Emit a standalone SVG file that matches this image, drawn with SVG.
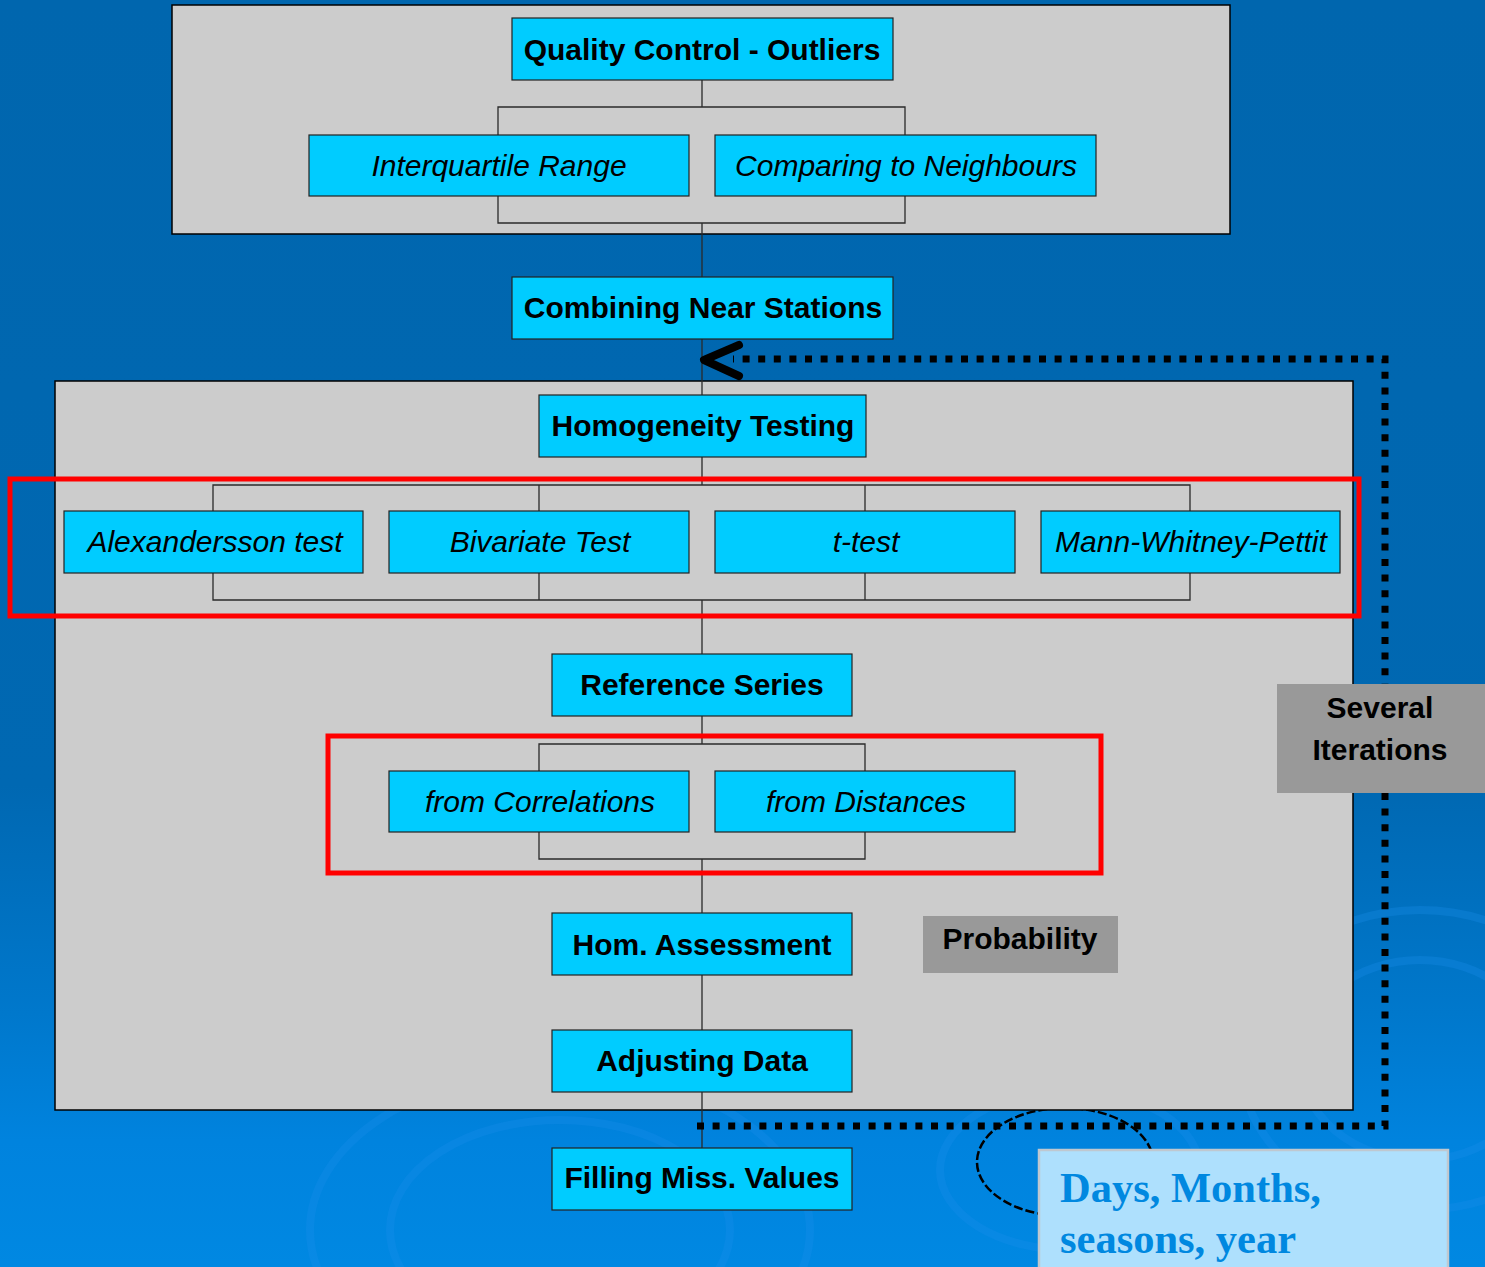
<svg xmlns="http://www.w3.org/2000/svg" width="1485" height="1267" viewBox="0 0 1485 1267">
<defs>
<linearGradient id="bg" x1="0" y1="0" x2="0" y2="1">
<stop offset="0" stop-color="#0066AE"/>
<stop offset="0.62" stop-color="#0068B2"/>
<stop offset="0.8" stop-color="#0078CC"/>
<stop offset="0.9" stop-color="#0083DE"/>
<stop offset="1" stop-color="#0088E2"/>
</linearGradient>
</defs>
<style>
.panel{fill:#CCCCCC;stroke:#000;stroke-width:1.5}
.box{fill:#00CCFF;stroke:#222;stroke-width:1.2}
.grey{fill:#999999}
.b{font-family:"Liberation Sans",Arial,sans-serif;font-weight:bold;font-size:30px;fill:#000;text-anchor:middle}
.i{font-family:"Liberation Sans",Arial,sans-serif;font-style:italic;font-size:30px;fill:#000;text-anchor:middle}
.con{fill:none;stroke:#2A2A2A;stroke-width:1.3}
.red{fill:none;stroke:#FF0000;stroke-width:5}
.dot{fill:none;stroke:#000;stroke-width:7;stroke-dasharray:7 8.6}
.swirl{fill:none;stroke:#1A90EA;stroke-opacity:0.3;stroke-width:8}
.days{font-family:"Liberation Serif","Times New Roman",serif;font-weight:bold;font-size:42.5px;fill:#0088E0}
</style>
<rect x="0" y="0" width="1485" height="1267" fill="url(#bg)"/>
<g id="swirls">
<ellipse class="swirl" cx="560" cy="1230" rx="170" ry="110"/>
<ellipse class="swirl" cx="560" cy="1230" rx="250" ry="160"/>
<ellipse class="swirl" cx="1070" cy="1170" rx="130" ry="80"/>
<ellipse class="swirl" cx="1420" cy="1060" rx="120" ry="100"/>
<ellipse class="swirl" cx="1420" cy="1060" rx="180" ry="150"/>
</g>
<ellipse cx="1065" cy="1162" rx="88" ry="54" fill="none" stroke="#000" stroke-width="2.5" stroke-dasharray="9 3"/>
<g id="panel-qc"><rect class="panel" x="172" y="5" width="1058" height="229"/></g>
<g id="panel-hom"><rect class="panel" x="55" y="381" width="1298" height="729"/></g>
<g id="connectors">
<path class="con" d="M702 80V107M498 135V107H905V135M498 196V223H905V196M702 223V277"/>
<path class="con" d="M702 339V395"/>
<path class="con" d="M702 457V485M213 511V485H1190V511M539 485V511M865 485V511"/>
<path class="con" d="M213 573V600H1190V573M539 573V600M865 573V600M702 600V654"/>
<path class="con" d="M702 716V744M539 771V744H865V771M539 832V859H865V832M702 859V913"/>
<path class="con" d="M702 975V1030M702 1092V1148"/>
<path class="dot" d="M697 1126H1385V359H733"/>
<path d="M739 345L704 360L739 376" fill="none" stroke="#000" stroke-width="8" stroke-linecap="round" stroke-linejoin="round"/>
</g>
<g id="n-qc"><rect class="box" x="512" y="18" width="381" height="62"/><text class="b" x="702" y="60">Quality Control - Outliers</text></g>
<g id="n-iqr"><rect class="box" x="309" y="135" width="380" height="61"/><text class="i" x="499" y="176">Interquartile Range</text></g>
<g id="n-neigh"><rect class="box" x="715" y="135" width="381" height="61"/><text class="i" x="906" y="176">Comparing to Neighbours</text></g>
<g id="n-comb"><rect class="box" x="512" y="277" width="381" height="62"/><text class="b" x="703" y="318">Combining Near Stations</text></g>
<g id="n-hom"><rect class="box" x="539" y="395" width="327" height="62"/><text class="b" x="703" y="436">Homogeneity Testing</text></g>
<g id="n-alex"><rect class="box" x="64" y="511" width="299" height="62"/><text class="i" x="215" y="552">Alexandersson test</text></g>
<g id="n-biv"><rect class="box" x="389" y="511" width="300" height="62"/><text class="i" x="540" y="552">Bivariate Test</text></g>
<g id="n-t"><rect class="box" x="715" y="511" width="300" height="62"/><text class="i" x="866" y="552">t-test</text></g>
<g id="n-mann"><rect class="box" x="1041" y="511" width="299" height="62"/><text class="i" x="1191" y="552">Mann-Whitney-Pettit</text></g>
<g id="n-ref"><rect class="box" x="552" y="654" width="300" height="62"/><text class="b" x="702" y="695">Reference Series</text></g>
<g id="n-corr"><rect class="box" x="389" y="771" width="300" height="61"/><text class="i" x="540" y="812">from Correlations</text></g>
<g id="n-dist"><rect class="box" x="715" y="771" width="300" height="61"/><text class="i" x="866" y="812">from Distances</text></g>
<g id="n-assess"><rect class="box" x="552" y="913" width="300" height="62"/><text class="b" x="702" y="955">Hom. Assessment</text></g>
<g id="n-prob"><rect class="grey" x="923" y="916" width="195" height="57"/><text class="b" x="1020" y="949">Probability</text></g>
<g id="n-adj"><rect class="box" x="552" y="1030" width="300" height="62"/><text class="b" x="702" y="1071">Adjusting Data</text></g>
<g id="n-fill"><rect class="box" x="552" y="1148" width="300" height="62"/><text class="b" x="702" y="1188">Filling Miss. Values</text></g>
<g id="highlights">
<rect class="red" x="10" y="479" width="1349" height="137"/>
<rect class="red" x="328" y="736" width="773" height="137"/>
</g>
<g id="n-iter"><rect class="grey" x="1277" y="684" width="210" height="109"/><text class="b" x="1380" y="718">Several</text><text class="b" x="1380" y="760">Iterations</text></g>
<g id="n-days"><rect x="1039" y="1150" width="409" height="122" fill="#AEE0FD" stroke="#BFC8D0" stroke-width="2.5"/><text class="days" x="1060" y="1202">Days, Months,</text><text class="days" x="1060" y="1253">seasons, year</text></g>
</svg>
